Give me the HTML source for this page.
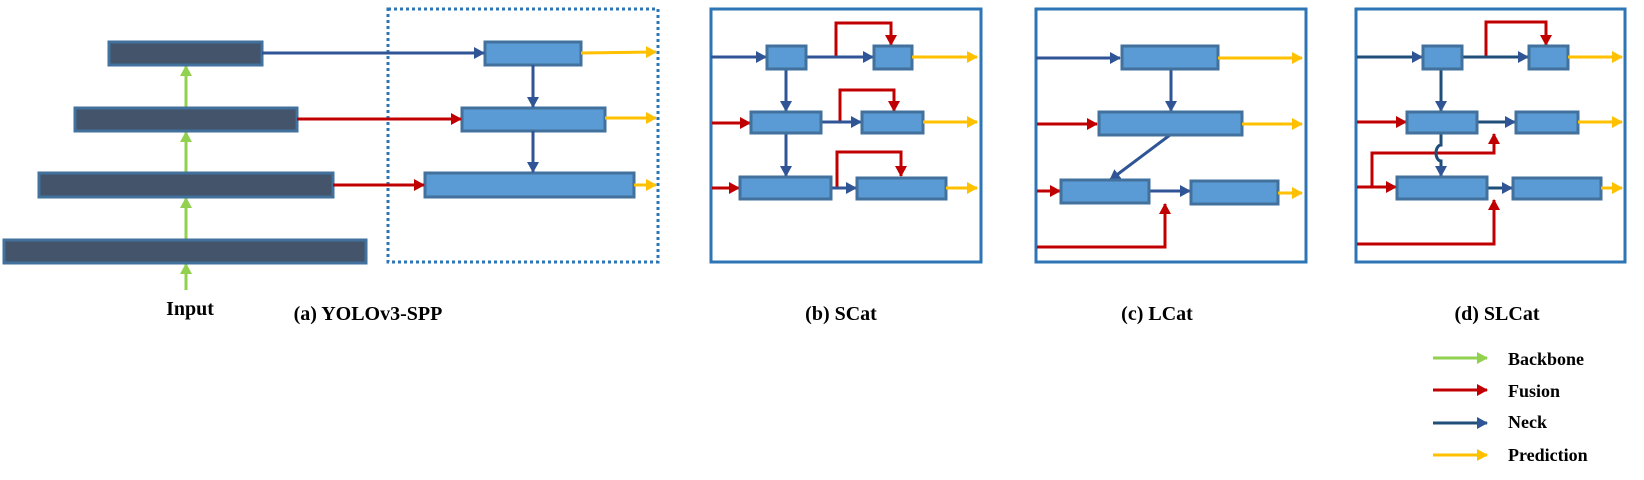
<!DOCTYPE html>
<html><head><meta charset="utf-8"><style>
html,body{margin:0;padding:0;background:#fff;width:1644px;height:480px;overflow:hidden}
text{font-family:"Liberation Serif",serif;font-weight:bold;fill:#000}
</style></head><body>
<svg width="1644" height="480" viewBox="0 0 1644 480" xmlns="http://www.w3.org/2000/svg">
<defs>
<marker id="mb" markerUnits="userSpaceOnUse" markerWidth="12" markerHeight="12" refX="10" refY="6" orient="auto"><path d="M0,0L11,6L0,12z" fill="#2f5597"/></marker>
<marker id="mr" markerUnits="userSpaceOnUse" markerWidth="12" markerHeight="12" refX="10" refY="6" orient="auto"><path d="M0,0L11,6L0,12z" fill="#c00000"/></marker>
<marker id="my" markerUnits="userSpaceOnUse" markerWidth="12" markerHeight="12" refX="10" refY="6" orient="auto"><path d="M0,0L11,6L0,12z" fill="#ffc000"/></marker>
<marker id="mg" markerUnits="userSpaceOnUse" markerWidth="12" markerHeight="12" refX="10" refY="6" orient="auto"><path d="M0,0L11,6L0,12z" fill="#92d050"/></marker>
</defs>
<g fill="none" stroke-width="3">
<!-- panel a -->
<g stroke="#92d050" marker-end="url(#mg)">
<line x1="186" y1="290" x2="186" y2="264"/><line x1="186" y1="240" x2="186" y2="198"/><line x1="186" y1="173" x2="186" y2="132"/><line x1="186" y1="108" x2="186" y2="66"/>
</g>
<g fill="#44546a" stroke="#41719c">
<rect x="109" y="42" width="153" height="23"/><rect x="75" y="108" width="222" height="23"/><rect x="39" y="173" width="294" height="24"/><rect x="4" y="240" width="362" height="23"/>
</g>
<rect x="388" y="9" width="270" height="253" stroke="#2e75b6" stroke-dasharray="3,3"/>
<g fill="#5b9bd5" stroke="#41719c">
<rect x="485" y="42" width="96" height="23"/><rect x="462" y="108" width="143" height="23"/><rect x="425" y="173" width="209" height="24"/>
</g>
<line x1="262" y1="53" x2="484" y2="53" stroke="#2f5597" marker-end="url(#mb)"/>
<line x1="297" y1="119" x2="461" y2="119" stroke="#c00000" marker-end="url(#mr)"/>
<line x1="333" y1="185" x2="424" y2="185" stroke="#c00000" marker-end="url(#mr)"/>
<line x1="533" y1="65" x2="533" y2="107" stroke="#2f5597" marker-end="url(#mb)"/>
<line x1="533" y1="131" x2="533" y2="172" stroke="#2f5597" marker-end="url(#mb)"/>
<g stroke="#ffc000" marker-end="url(#my)">
<line x1="581" y1="53" x2="656" y2="52"/><line x1="605" y1="118" x2="656" y2="118"/><line x1="634" y1="185" x2="656" y2="185"/>
</g>
<!-- panel b -->
<rect x="711" y="9" width="270" height="253" stroke="#2e75b6"/>
<g stroke="#c00000" marker-end="url(#mr)">
<polyline points="836,57 836,23 891,23 891,45"/><polyline points="840,122 840,90 894,90 894,111"/><polyline points="837,188 837,152 901,152 901,176"/>
<line x1="712" y1="123" x2="750" y2="123"/><line x1="712" y1="188" x2="739" y2="188"/>
</g>
<g stroke="#2f5597" marker-end="url(#mb)">
<line x1="711" y1="57" x2="766" y2="57"/><line x1="806" y1="57" x2="873" y2="57"/><line x1="821" y1="122" x2="861" y2="122"/><line x1="831" y1="188" x2="856" y2="188"/>
<line x1="786" y1="69" x2="786" y2="111"/><line x1="786" y1="133" x2="786" y2="176"/>
</g>
<g fill="#5b9bd5" stroke="#41719c">
<rect x="767" y="46" width="39" height="23"/><rect x="874" y="46" width="38" height="23"/>
<rect x="751" y="112" width="70" height="21"/><rect x="862" y="112" width="61" height="21"/>
<rect x="740" y="177" width="91" height="22"/><rect x="857" y="178" width="89" height="21"/>
</g>
<g stroke="#ffc000" marker-end="url(#my)">
<line x1="912" y1="57" x2="977" y2="57"/><line x1="923" y1="122" x2="977" y2="122"/><line x1="946" y1="188" x2="977" y2="188"/>
</g>
<!-- panel c -->
<rect x="1036" y="9" width="270" height="253" stroke="#2e75b6"/>
<g stroke="#2f5597" marker-end="url(#mb)">
<line x1="1036" y1="58" x2="1120" y2="58"/><line x1="1171" y1="69" x2="1171" y2="111"/>
<line x1="1170" y1="135" x2="1110" y2="180"/><line x1="1149" y1="191" x2="1190" y2="191"/>
</g>
<g stroke="#c00000" marker-end="url(#mr)">
<line x1="1037" y1="124" x2="1097" y2="124"/><line x1="1037" y1="191" x2="1060" y2="191"/>
<polyline points="1037,247 1165,247 1165,204"/>
</g>
<g fill="#5b9bd5" stroke="#41719c">
<rect x="1122" y="46" width="96" height="23"/><rect x="1099" y="112" width="143" height="23"/>
<rect x="1061" y="180" width="88" height="23"/><rect x="1191" y="181" width="87" height="23"/>
</g>
<g stroke="#ffc000" marker-end="url(#my)">
<line x1="1218" y1="58" x2="1302" y2="58"/><line x1="1242" y1="124" x2="1302" y2="124"/><line x1="1278" y1="193" x2="1302" y2="193"/>
</g>
<!-- panel d -->
<rect x="1356" y="9" width="269" height="253" stroke="#2e75b6"/>
<g stroke="#c00000" marker-end="url(#mr)">
<polyline points="1486,57 1486,22 1546,22 1546,45"/>
<line x1="1357" y1="122" x2="1406" y2="122"/><line x1="1357" y1="187" x2="1396" y2="187"/>
<polyline points="1372,187 1372,153 1494,153 1494,134"/>
<polyline points="1357,244 1494,244 1494,200"/>
</g>
<g stroke="#1f4e79" marker-end="url(#mb)">
<line x1="1357" y1="57" x2="1422" y2="57"/><line x1="1462" y1="57" x2="1528" y2="57"/>
<line x1="1477" y1="122" x2="1515" y2="122"/><line x1="1487" y1="188" x2="1512" y2="188"/>
<line x1="1441" y1="69" x2="1441" y2="111"/>
<path d="M1441,133 L1441,145 A5,8 0 0 0 1441,161 L1441,176"/>
</g>
<g fill="#5b9bd5" stroke="#41719c">
<rect x="1423" y="46" width="39" height="23"/><rect x="1529" y="46" width="39" height="23"/>
<rect x="1407" y="112" width="70" height="21"/><rect x="1516" y="112" width="62" height="21"/>
<rect x="1397" y="177" width="90" height="22"/><rect x="1513" y="178" width="88" height="21"/>
</g>
<g stroke="#ffc000" marker-end="url(#my)">
<line x1="1568" y1="57" x2="1622" y2="57"/><line x1="1578" y1="122" x2="1622" y2="122"/><line x1="1601" y1="188" x2="1622" y2="188"/>
</g>
<!-- legend -->
<line x1="1433" y1="358" x2="1487" y2="358" stroke="#92d050" marker-end="url(#mg)"/>
<line x1="1433" y1="390" x2="1487" y2="390" stroke="#c00000" marker-end="url(#mr)"/>
<line x1="1433" y1="423" x2="1487" y2="423" stroke="#1f4e79" marker-end="url(#mb)"/>
<line x1="1433" y1="455" x2="1487" y2="455" stroke="#ffc000" marker-end="url(#my)"/>
</g>
<g font-size="20">
<text x="190" y="315" text-anchor="middle">Input</text>
<text x="368" y="320" text-anchor="middle">(a) YOLOv3-SPP</text>
<text x="841" y="320" text-anchor="middle">(b) SCat</text>
<text x="1157" y="320" text-anchor="middle">(c) LCat</text>
<text x="1497" y="320" text-anchor="middle">(d) SLCat</text>
</g>
<g font-size="18">
<text x="1508" y="365">Backbone</text>
<text x="1508" y="397">Fusion</text>
<text x="1508" y="428">Neck</text>
<text x="1508" y="461">Prediction</text>
</g>
</svg>
</body></html>
